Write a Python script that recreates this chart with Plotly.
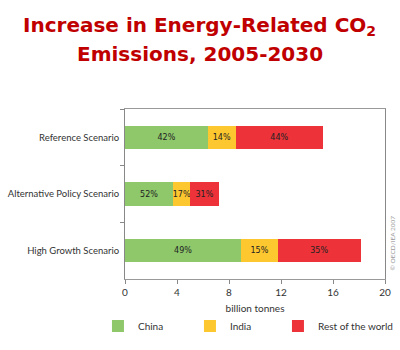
import plotly.graph_objects as go

scenarios = ["Reference Scenario", "Alternative Policy Scenario", "High Growth Scenario"]
china = [6.4, 3.72, 8.95]
india = [2.1, 1.3, 2.8]
rest = [6.75, 2.2, 6.4]
china_pct = ["42%", "52%", "49%"]
india_pct = ["14%", "17%", "15%"]
rest_pct = ["44%", "31%", "35%"]
x_ticks = [0, 4, 8, 12, 16, 20]

colors = {"China": "#8ec86b", "India": "#fdc82f", "Rest of the world": "#ed3339"}
legend_widths = {"China": 47, "India": 43, "Rest of the world": 90}

fig = go.Figure()
for name, vals, pct in [("China", china, china_pct), ("India", india, india_pct),
                        ("Rest of the world", rest, rest_pct)]:
    fig.add_trace(go.Bar(
        y=scenarios, x=vals, name=name, orientation="h",
        marker=dict(color=colors[name], line=dict(width=0)),
        text=pct, textposition="inside", insidetextanchor="middle",
        textangle=0, constraintext="none",
        textfont=dict(family="DejaVu Sans", size=8, color="#222"),
        legendwidth=legend_widths[name],
        hoverinfo="skip",
    ))

fig.update_layout(
    width=400, height=350,
    barmode="stack", bargap=0.59,
    paper_bgcolor="white", plot_bgcolor="white",
    margin=dict(l=125, r=15, t=109, b=71, autoexpand=False),
    font=dict(family="Lato", size=10, color="#333"),
    showlegend=True,
    legend=dict(orientation="h", x=-0.104, xanchor="left", y=-0.276, yanchor="middle",
                font=dict(size=10, color="#333"),
                itemwidth=30, traceorder="normal"),
)
title_font = dict(family="DejaVu Sans", size=20, color="#c00000", weight="bold")
fig.add_annotation(text="Increase in Energy-Related CO<sub>2</sub>", xref="paper", yref="paper",
                   x=0.288, y=1.488, xanchor="center", yanchor="middle",
                   showarrow=False, font=title_font)
fig.add_annotation(text="Emissions, 2005-2030", xref="paper", yref="paper",
                   x=0.288, y=1.3235, xanchor="center", yanchor="middle",
                   showarrow=False, font=title_font)
fig.update_xaxes(
    range=[0, 20], tickvals=x_ticks, ticks="outside", ticklen=4, tickcolor="#888",
    showline=True, linecolor="#999", mirror=True, showgrid=False, zeroline=False,
    automargin=False,
    title=dict(text="billion tonnes", font=dict(size=10, color="#333"), standoff=7),
    tickfont=dict(size=10, color="#333"),
)
fig.update_yaxes(
    autorange="reversed", ticks="outside", ticklen=4, tickcolor="#888",
    tickson="boundaries", showline=True, linecolor="#888", mirror=True,
    automargin=False, showgrid=False, tickfont=dict(size=9.5, color="#333"),
    ticklabelstandoff=3,
)
fig.add_annotation(
    text="© OECD/IEA 2007", xref="paper", yref="paper", x=1.03, y=0.04,
    xanchor="center", yanchor="bottom", textangle=-90, showarrow=False,
    font=dict(size=6.5, color="#999"),
)
fig.write_html("out.html")
